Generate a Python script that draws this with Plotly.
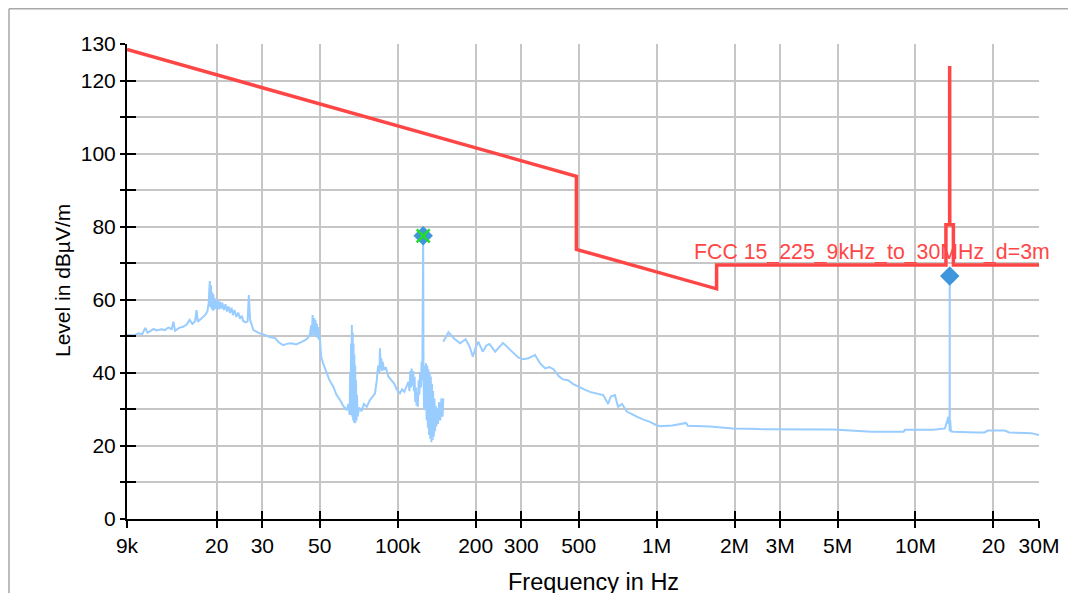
import plotly.graph_objects as go
import math

# ---------------- data ----------------
# Measured level, segment A (9 kHz .. 150 kHz): (frequency kHz, level dBuV/m)
seg_a_points = [
    (9.0, 50.4), (9.5, 50.2), (10.0, 50.8), (10.3, 50.6), (10.6, 52.3), (10.8, 51.0), (11.0, 51.3),
    (11.4, 52.0), (11.7, 51.6), (12.2, 51.9), (12.6, 51.7), (13.0, 52.4), (13.4, 52.0), (13.6, 54.0),
    (13.8, 51.5), (14.3, 52.3), (14.8, 52.6), (15.3, 53.2), (15.7, 54.5), (16.1, 53.4), (16.5, 54.2),
    (16.7, 57.2), (16.9, 54.0), (17.4, 54.8), (18.0, 55.8), (18.4, 56.8), (18.6, 59.0), (18.8, 65.1),
    (18.9, 58.0), (19.0, 64.0), (19.1, 57.5), (19.2, 62.0), (19.3, 57.0), (19.4, 61.5), (19.5, 57.2),
    (19.6, 60.5), (19.7, 57.5), (19.8, 60.0), (20.0, 57.5), (20.2, 59.8), (20.4, 57.4), (20.6, 59.5),
    (20.8, 57.6), (21.0, 59.2), (21.3, 57.2), (21.6, 58.8), (21.9, 56.8), (22.2, 58.2), (22.5, 56.4),
    (22.8, 57.8), (23.1, 55.8), (23.4, 57.2), (23.8, 55.3), (24.2, 56.5), (24.6, 54.8), (25.0, 55.6),
    (25.3, 54.2), (25.9, 53.8), (26.3, 54.0), (26.6, 61.3), (26.9, 54.5), (27.7, 51.7), (28.5, 51.3),
    (29.3, 50.8), (30.7, 50.4), (32.0, 49.8), (33.6, 49.5), (34.8, 48.3), (36.1, 47.6), (37.5, 48.0),
    (38.9, 48.1), (40.5, 47.8), (42.6, 48.5), (44.0, 49.0), (45.0, 49.6), (45.8, 50.5), (46.3, 53.0),
    (46.6, 50.0), (46.9, 55.8), (47.2, 50.5), (47.5, 55.0), (47.8, 50.2), (48.1, 54.5), (48.4, 49.8),
    (48.7, 53.5), (49.0, 49.5), (49.4, 52.5), (49.7, 49.0), (50.0, 49.9), (50.6, 44.4), (51.5, 42.6),
    (53.0, 40.0), (54.5, 38.0), (56.4, 36.2), (58.0, 34.0), (59.8, 32.6), (61.5, 31.0), (63.5, 29.8),
    (64.5, 31.5), (65.2, 28.5), (65.5, 40.0), (65.75, 29.5), (66.0, 48.0), (66.25, 28.5), (66.5, 53.1),
    (66.75, 28.0), (67.0, 51.0), (67.25, 27.0), (67.5, 48.0), (67.75, 26.5), (68.0, 45.0), (68.25, 26.2),
    (68.5, 42.0), (68.75, 26.5), (69.0, 38.0), (69.3, 27.0), (69.6, 34.0), (70.0, 28.0), (71.0, 30.5),
    (72.5, 29.5), (74.0, 31.5), (75.9, 30.7), (78.0, 32.5), (80.0, 33.5), (81.7, 34.4), (83.0, 38.0),
    (84.0, 42.0), (85.0, 40.0), (85.4, 46.7), (85.9, 41.0), (86.5, 44.0), (87.0, 40.5), (87.5, 43.0),
    (88.5, 40.8), (90.0, 41.5), (92.0, 39.0), (94.6, 38.0), (97.0, 37.0), (99.0, 35.5), (102.0, 34.4),
    (104.0, 35.5), (106.0, 34.8), (108.0, 36.2), (110.0, 37.5), (111.0, 35.0), (111.8, 40.5),
    (112.5, 36.0), (113.2, 41.2), (114.0, 36.5), (114.8, 40.5), (115.5, 35.0), (116.2, 38.9),
    (116.9, 32.0), (117.6, 36.0), (118.3, 31.0), (119.0, 34.5), (119.7, 30.7), (120.4, 38.0),
    (121.2, 34.0), (122.0, 40.0), (123.0, 36.0), (123.6, 43.0), (124.4, 38.0), (125.0, 70.0),
    (125.4, 77.5), (125.8, 38.0), (126.5, 30.0), (127.2, 42.0), (127.9, 29.8), (128.6, 42.6),
    (129.3, 27.0), (130.0, 42.0), (130.7, 25.0), (131.4, 41.0), (132.1, 23.0), (132.8, 40.0),
    (133.5, 22.0), (134.2, 39.0), (134.9, 21.0), (135.6, 37.0), (136.3, 21.6), (137.0, 35.0),
    (137.8, 22.5), (138.6, 33.0), (139.4, 24.0), (140.2, 31.0), (141.0, 25.3), (142.0, 30.0),
    (143.0, 26.0), (144.5, 32.0), (146.0, 27.0), (147.5, 33.0), (149.0, 28.0), (150.0, 33.0),
]

# Measured level, segment B (150 kHz .. 30 MHz): (frequency kHz, level dBuV/m)
seg_b_points = [
    (150, 48.5), (157, 51.1), (165, 49.4), (174, 48.1), (183, 49.2), (190, 47.0), (195, 44.4),
    (200, 47.0), (205, 48.5), (213, 45.8), (220, 47.5), (226, 47.9), (238, 45.8), (255, 48.2),
    (270, 46.5), (280, 45.3), (292, 44.2), (305, 43.7), (320, 44.0), (339, 44.9), (355, 42.6),
    (371, 41.2), (385, 41.6), (400, 41.0), (420, 39.0), (435, 38.2), (455, 38.0), (475, 37.0),
    (498, 36.2), (525, 35.5), (552, 34.8), (590, 34.2), (622, 33.9), (650, 31.5), (665, 33.5),
    (690, 33.9), (710, 30.7), (735, 31.5), (767, 29.4), (800, 28.8), (838, 28.0), (890, 27.2),
    (943, 26.6), (990, 25.8), (1030, 25.4), (1150, 25.6), (1300, 26.3), (1320, 25.5), (1500, 25.4),
    (1610, 25.3), (1970, 24.8), (2500, 24.6), (4810, 24.5), (6760, 23.9), (9000, 23.9), (9100, 24.4),
    (11700, 24.4), (13000, 24.8), (13400, 28.0), (13450, 26.0), (13500, 28.0), (13550, 24.0),
    (13560, 66.5), (13570, 24.0), (13620, 27.0), (13700, 24.0), (14000, 23.9), (17200, 23.7),
    (18500, 23.7), (19000, 24.2), (22100, 24.2), (23000, 23.7), (28000, 23.5), (30000, 23.0),
]

# Peak markers
peak_khz = [125.4, 13560]
peak_lvl = [77.5, 66.5]
cross_khz = [125.4]
cross_lvl = [77.5]

# FCC 15.225 limit (extrapolated to 3 m), frequency in kHz
limit_khz = [9, 490, 490, 1705, 1705, 13110, 13110, 13553, 13553, 13567, 13567, 14010, 14010, 30000]
limit_lvl = [128.5, 93.8, 73.8, 63.0, 69.5, 69.5, 80.5, 80.5, 124.0, 124.0, 80.5, 80.5, 69.5, 69.5]
limit_name = "FCC 15_225_9kHz_to_30MHz_d=3m"

x_tick_hz = [9e3, 20e3, 30e3, 50e3, 100e3, 200e3, 300e3, 500e3, 1e6, 2e6, 3e6, 5e6, 10e6, 20e6, 30e6]
x_tick_txt = ["9k", "20", "30", "50", "100k", "200", "300", "500", "1M", "2M", "3M", "5M", "10M", "20", "30M"]
y_tick_vals = [0, 10, 20, 30, 40, 50, 60, 70, 80, 90, 100, 110, 120, 130]
y_tick_txt = ["0", "", "20", "", "40", "", "60", "", "80", "", "100", "", "120", "130"]
x_title = "Frequency in Hz"
y_title = "Level in dBµV/m"

# ---------------- figure ----------------
FONT = "Liberation Sans, Arial, sans-serif"
BLUE = "#99CCFF"
RED = "#FF4646"
GRID = "#C6C6C6"

meas_x = [p[0] * 1e3 for p in seg_a_points] + [None] + [p[0] * 1e3 for p in seg_b_points]
meas_y = [p[1] for p in seg_a_points] + [None] + [p[1] for p in seg_b_points]

fig = go.Figure()
fig.add_trace(go.Scatter(x=meas_x, y=meas_y, mode="lines", connectgaps=False,
                         line=dict(color=BLUE, width=2), hoverinfo="skip", showlegend=False))
fig.add_trace(go.Scatter(x=[f * 1e3 for f in limit_khz], y=limit_lvl, mode="lines",
                         line=dict(color=RED, width=3.5), showlegend=False))
fig.add_trace(go.Scatter(x=[f * 1e3 for f in peak_khz], y=peak_lvl, mode="markers",
                         marker=dict(symbol="diamond", size=15, color="#3E97DD"), showlegend=False))
fig.add_trace(go.Scatter(x=[f * 1e3 for f in cross_khz], y=cross_lvl, mode="markers",
                         marker=dict(symbol="x-thin", size=13, line=dict(color="#22DD22", width=2.5)),
                         showlegend=False))
# dummy trace for overlay axes (inner tick marks)
fig.add_trace(go.Scatter(x=[x_tick_hz[0]], y=[0], xaxis="x2", yaxis="y2", mode="markers",
                         marker=dict(opacity=0), hoverinfo="skip", showlegend=False))

xr = [math.log10(9e3), math.log10(30e6)]
fig.update_layout(
    width=1068, height=585,
    margin=dict(l=119, r=37, t=36, b=74, autoexpand=False),
    paper_bgcolor="white", plot_bgcolor="white",
    font=dict(family=FONT, size=21, color="black"),
    xaxis=dict(type="log", range=xr, tickvals=x_tick_hz, ticktext=x_tick_txt,
               showgrid=True, gridcolor=GRID, gridwidth=1.5,
               showline=True, linecolor="black", linewidth=2,
               ticks="outside", ticklen=7, tickwidth=2, tickcolor="black",
               tickfont=dict(size=21), zeroline=False),
    yaxis=dict(range=[0, 130], tickvals=y_tick_vals, ticktext=y_tick_txt,
               showgrid=True, gridcolor=GRID, gridwidth=1.5,
               showline=True, linecolor="black", linewidth=2,
               ticks="outside", ticklen=5, tickwidth=2, tickcolor="black",
               tickfont=dict(size=21), zeroline=False),
    xaxis2=dict(type="log", range=xr, overlaying="x", anchor="y", side="bottom",
                tickvals=x_tick_hz, showticklabels=False, showgrid=False, zeroline=False,
                ticks="inside", ticklen=8, tickwidth=2, tickcolor="black", showline=False),
    yaxis2=dict(range=[0, 130], overlaying="y", anchor="x", side="left",
                tickvals=y_tick_vals, showticklabels=False, showgrid=False, zeroline=False,
                ticks="inside", ticklen=9, tickwidth=2, tickcolor="black", showline=False),
    annotations=[
        dict(x=math.log10(1.38e6), y=69.5, xref="x", yref="y", text=limit_name,
             showarrow=False, xanchor="left", yanchor="bottom",
             font=dict(family=FONT, size=21.3, color=RED), borderpad=0),
        dict(x=0.511, y=-0.1326, xref="paper", yref="paper", text=x_title, showarrow=False,
             xanchor="center", yanchor="middle", font=dict(family=FONT, size=23.5, color="black")),
        dict(x=-0.0713, y=0.503, xref="paper", yref="paper", text=y_title, showarrow=False,
             textangle=-90, xanchor="center", yanchor="middle",
             font=dict(family=FONT, size=21, color="black")),
    ],
    shapes=[
        dict(type="line", xref="paper", yref="paper", x0=-0.1294, x1=1.2, y0=1.0742, y1=1.0742,
             line=dict(color="#A8A8A8", width=1.5)),
        dict(type="line", xref="paper", yref="paper", x0=-0.1294, x1=-0.1294, y0=-0.3, y1=1.0742,
             line=dict(color="#A8A8A8", width=1.5)),
    ],
)

fig.write_html("out.html")
